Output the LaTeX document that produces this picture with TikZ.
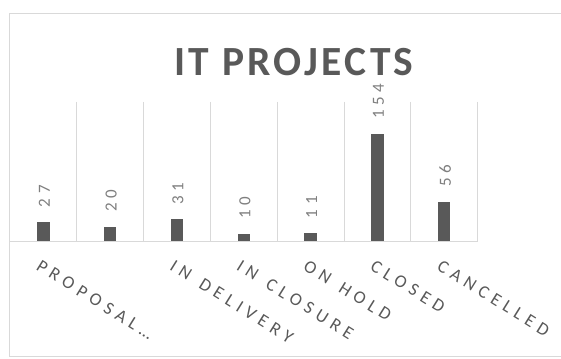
\documentclass[tikz,border=0pt]{standalone}
\usepackage{fontspec}
\setmainfont{Carlito}
\newfontfamily\titlefont[LetterSpace=8]{Carlito}
\newfontfamily\spacedfont[LetterSpace=30]{Carlito}
\newfontfamily\valuefont[LetterSpace=27]{Carlito}
\definecolor{framec}{HTML}{D9D9D9}
\definecolor{gridc}{HTML}{D9D9D9}
\definecolor{barc}{HTML}{595959}
\definecolor{titlec}{HTML}{595959}
\definecolor{valc}{HTML}{7F7F7F}
\definecolor{catc}{HTML}{595959}
\tikzset{
  framebox/.style={draw=framec, line width=1.5pt},
  gridline/.style={draw=gridc, line width=0.9pt},
  barfill/.style={fill=barc},
  valuelabel/.style={inner sep=0pt, text=valc, font=\valuefont\fontsize{17}{17}\selectfont, rotate=90, anchor=west},
  catlabel/.style={inner sep=0pt, text=catc, font=\spacedfont\fontsize{18}{18}\selectfont, rotate=-32, anchor=north west},
  charttitle/.style={inner sep=0pt, text=titlec, font=\titlefont\bfseries\fontsize{41.5}{41.5}\selectfont, anchor=base}
}
\begin{document}
\begin{tikzpicture}[x=1pt,y=-1pt]
\useasboundingbox (0,0) rectangle (561,358);
\begin{scope}
\clip (0,0) rectangle (561,358);
\draw[framebox] (9.5,13.7) rectangle (590,356.3);
\end{scope}
% title
\node[charttitle] (title) at (294,76) {IT PROJECTS};
% gridlines
\foreach \k in {1,...,7}{
  \draw[gridline] ({10+66.8*\k},102) -- ({10+66.8*\k},241);
}
\coordinate (axl) at (10,241);
\coordinate (axr) at (477.6,241);
\draw[gridline] (axl) -- (axr);
% bars and value labels
\foreach \i/\v in {1/27,2/20,3/31,4/10,5/11,6/154,7/56}{
  \fill[barfill] ({10+66.8*(\i-0.5)-6.25},241) rectangle ({10+66.8*(\i-0.5)+6.25},{241-0.695*\v});
  \node[valuelabel] (v\i) at ({10+66.8*(\i-0.5)+1},{241-0.695*\v-15}) {\v};
}
% category labels
\foreach \i/\t in {1/PROPOSAL…,3/IN\hspace{3pt} DELIVERY,4/IN\hspace{3pt} CLOSURE,5/ON\hspace{3pt} HOLD,6/CLOSED,7/CANCELLED}{
  \node[catlabel] (c\i) at ({10+66.8*(\i-0.5)-2},259) {\t};
}
\end{tikzpicture}
\end{document}
